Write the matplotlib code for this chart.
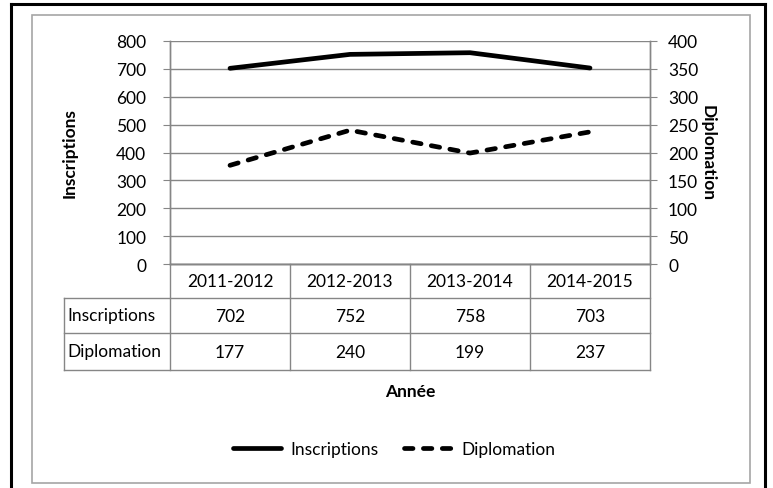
import matplotlib.pyplot as plt
from matplotlib.lines import Line2D
from matplotlib.patches import Rectangle
import matplotlib.transforms as mtransforms

# data
annees = ["2011-2012", "2012-2013", "2013-2014", "2014-2015"]
inscriptions = [702, 752, 758, 703]
diplomation = [177, 240, 199, 237]

plt.rcParams['font.family'] = ['Lato', 'DejaVu Sans']
W, H = 773, 489
fs = 12.5
grid_c = '#868686'

fig = plt.figure(figsize=(W / 100, H / 100), dpi=100)

def fx(x):
    return x / W

def fy(y):
    return 1 - y / H

# frames (black outer, gray inner)
fig.add_artist(Line2D([fx(11), fx(11)], [fy(5), 0], color='black', lw=2.2))
fig.add_artist(Line2D([fx(765), fx(765)], [fy(5), 0], color='black', lw=2.2))
fig.add_artist(Line2D([fx(11), fx(765)], [fy(5), fy(5)], color='black', lw=2.2))
fig.add_artist(Rectangle((fx(32), fy(484)), fx(750) - fx(32), fy(16) - fy(484),
                         fill=False, edgecolor='#a6a6a6', lw=1.2, transform=fig.transFigure))

left, right, top, bottom = 170, 650, 42, 265
ax = fig.add_axes([fx(left), fy(bottom), fx(right) - fx(left), fy(top) - fy(bottom)])
ax2 = ax.twinx()

x = [i + 0.5 for i in range(len(annees))]
l1, = ax.plot(x, inscriptions, color='black', lw=3.4, solid_capstyle='round', label='Inscriptions')
l2, = ax2.plot(x, diplomation, color='black', lw=3.4, dashes=(1.8, 2.2),
               dash_capstyle='round', label='Diplomation')

ax.set_xlim(0, len(annees))
ax.set_ylim(0, 800)
ax.set_yticks(range(0, 801, 100))
ax2.set_ylim(0, 400)
ax2.set_yticks(range(0, 401, 50))
ax.set_xticks([])
ax.yaxis.grid(True, color=grid_c, lw=1)
ax.set_axisbelow(True)

for a in (ax, ax2):
    for s in a.spines.values():
        s.set_color(grid_c)
        s.set_linewidth(1)
    a.spines['top'].set_visible(False)
    a.tick_params(axis='y', length=5, color=grid_c, labelsize=fs, pad=8)
ax.tick_params(axis='y', pad=12)

ax.set_ylabel('Inscriptions', fontsize=fs, fontweight='bold')
ax.yaxis.set_label_coords((78 - left) / (right - left), 0.5)
ax2.set_ylabel('Diplomation', fontsize=fs, fontweight='bold', rotation=-90, va='bottom')
ax2.yaxis.set_label_coords((700 - left) / (right - left), 0.5)

# data table under the axis
trans = mtransforms.blended_transform_factory(ax.transData, ax.transAxes)
ph = bottom - top

def ay(y):
    return (bottom - y) / ph

rows = [265, 299, 334, 371]
label_left = (64 - left) / (right - left)
n = len(annees)
tk = dict(color=grid_c, lw=1, clip_on=False)
# horizontal lines
ax.plot([0, n], [ay(rows[0])] * 2, transform=trans, **tk)
for r in rows[1:]:
    ax.add_line(Line2D([label_left, 1], [ay(r)] * 2, transform=ax.transAxes, **tk))
# vertical lines
for i in range(n + 1):
    ax.plot([i, i], [ay(rows[0]), ay(rows[3])], transform=trans, **tk)
ax.add_line(Line2D([label_left] * 2, [ay(rows[1]), ay(rows[3])], transform=ax.transAxes, **tk))

for i, a in enumerate(annees):
    ax.text(i + 0.5, ay((rows[0] + rows[1]) / 2), a, transform=trans, ha='center', va='center', fontsize=fs)
    ax.text(i + 0.5, ay((rows[1] + rows[2]) / 2), str(inscriptions[i]), transform=trans,
            ha='center', va='center', fontsize=fs)
    ax.text(i + 0.5, ay((rows[2] + rows[3]) / 2), str(diplomation[i]), transform=trans,
            ha='center', va='center', fontsize=fs)
ax.text(label_left + 0.006, ay((rows[1] + rows[2]) / 2), 'Inscriptions', transform=ax.transAxes,
        ha='left', va='center', fontsize=fs)
ax.text(label_left + 0.006, ay((rows[2] + rows[3]) / 2), 'Diplomation', transform=ax.transAxes,
        ha='left', va='center', fontsize=fs)

fig.text(fx(410), fy(392), 'Année', ha='center', va='center', fontsize=fs, fontweight='bold')

fig.legend(handles=[l1, l2], loc='center', bbox_to_anchor=(fx(394), fy(450)), ncol=2,
           frameon=False, fontsize=fs, handlelength=2.8, handletextpad=0.5, columnspacing=1.5)

fig.savefig('out.png', dpi=100)
